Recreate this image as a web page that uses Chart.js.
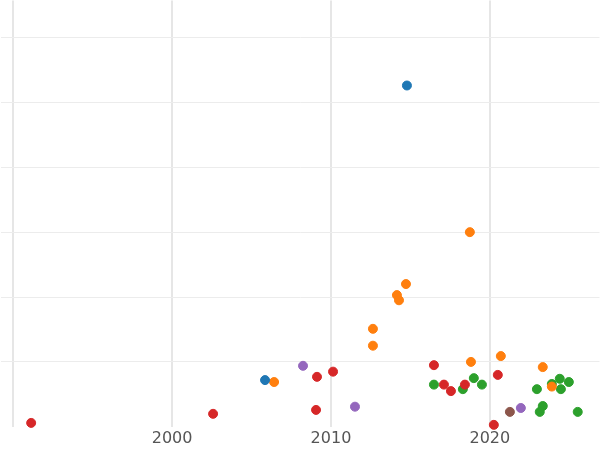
<!DOCTYPE html>
<html>
<head>
<script src="https://cdn.jsdelivr.net/npm/chart.js@4"></script>
<style>
	html, body { margin: 0; padding: 0; background: #fff; overflow: hidden; }
	#wrap { position: absolute; left: -5px; top: -5px; width: 610px; height: 455px; }
</style>
</head>
<body>
<div id="wrap"><canvas id="chart"></canvas></div>
<script>
// values: year, value
const blueX = [2014.78, 2005.85];
const blueY = [5.26, 0.72];
const orangeX = [2018.74, 2014.72, 2014.15, 2014.28, 2012.64, 2012.64, 2020.69, 2018.81, 2023.33, 2006.42, 2023.9];
const orangeY = [3.0, 2.2, 2.03, 1.95, 1.51, 1.25, 1.09, 1.0, 0.92, 0.69, 0.62];
const redX = [1991.13, 2002.58, 2009.06, 2009.12, 2010.13, 2016.48, 2017.11, 2017.55, 2018.43, 2020.5, 2020.25];
const redY = [0.06, 0.2, 0.26, 0.77, 0.85, 0.95, 0.65, 0.55, 0.65, 0.8, 0.03];
const purpleX = [2008.24, 2011.51, 2021.95];
const purpleY = [0.94, 0.31, 0.29];
const greenX = [2016.48, 2018.3, 2018.99, 2019.5, 2022.96, 2023.9, 2024.4, 2024.47, 2024.97, 2023.33, 2023.14, 2025.53];
const greenY = [0.65, 0.58, 0.75, 0.65, 0.58, 0.66, 0.74, 0.58, 0.69, 0.32, 0.23, 0.23];
const brownX = [2021.26];
const brownY = [0.23];
const xTicks = [1990, 2000, 2010, 2020];

const pts = (xs, ys) => xs.map((x, i) => ({ x: x, y: ys[i] }));
const series = [
	[blueX, blueY, "#1f77b4"],
	[orangeX, orangeY, "#ff7f0e"],
	[redX, redY, "#d62728"],
	[purpleX, purpleY, "#9467bd"],
	[greenX, greenY, "#2ca02c"],
	[brownX, brownY, "#8c564b"],
];

new Chart(document.getElementById("chart").getContext("2d"), {
	type: "scatter",
	data: {
		datasets: series.map(([xs, ys, c]) => ({
			data: pts(xs, ys),
			backgroundColor: c,
			borderColor: c,
			pointRadius: 4.5,
			clip: false,
		})),
	},
	options: {
		responsive: true,
		maintainAspectRatio: false,
		animation: false,
		layout: { padding: 0 },
		plugins: { legend: { display: false }, tooltip: { enabled: false } },
		scales: {
			x: {
				type: "linear",
				min: 1989.2,
				max: 2026.9,
				afterBuildTicks: (axis) => { axis.ticks = xTicks.map((v) => ({ value: v })); },
				ticks: {
					color: "#555",
					font: { family: "DejaVu Sans", size: 16 },
					padding: 2,
					callback: (v) => (v === 1990 ? "" : v),
				},
				grid: { color: "#e6e6e6", lineWidth: 2, drawTicks: false },
				border: { display: false },
			},
			y: {
				min: 0,
				max: 6.57,
				afterBuildTicks: (axis) => { axis.ticks = [1, 2, 3, 4, 5, 6].map((v) => ({ value: v })); },
				ticks: { display: false },
				grid: { color: "#ececec", lineWidth: 1, drawTicks: false },
				border: { display: false },
			},
		},
	},
});
</script>
</body>
</html>
